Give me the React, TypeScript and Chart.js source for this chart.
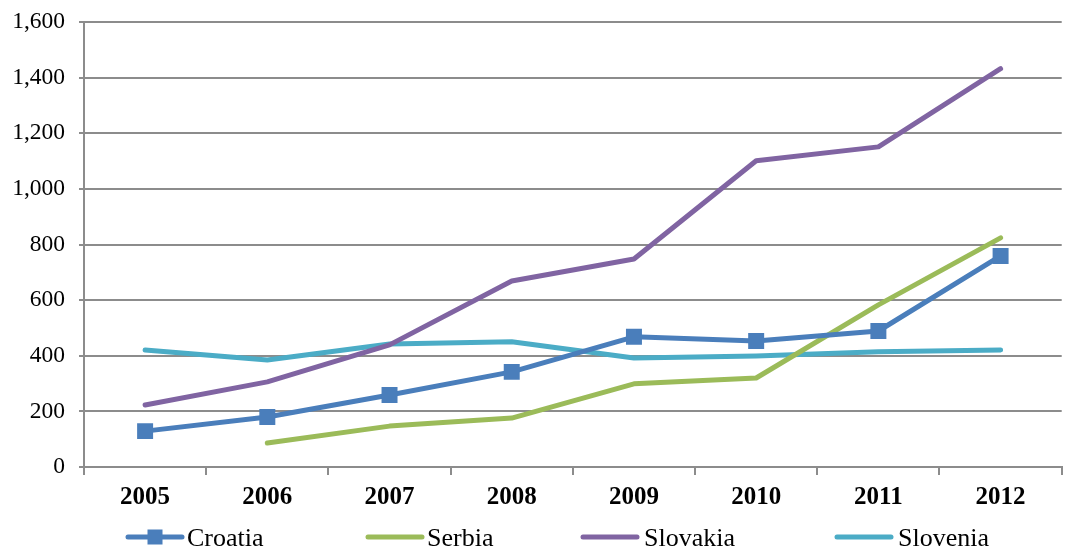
import React, { useEffect, useRef } from "react";
import { Chart, registerables } from "chart.js";

Chart.register(...registerables);

const years = ["2005", "2006", "2007", "2008", "2009", "2010", "2011", "2012"];
const croatia = [129, 180, 259, 342, 468, 453, 489, 759];
const serbia = [null, 86, 147, 176, 299, 320, 583, 824];
const slovakia = [223, 306, 439, 669, 748, 1101, 1151, 1432];
const slovenia = [421, 385, 442, 450, 392, 399, 414, 421];

const seriesNames = ["Croatia", "Serbia", "Slovakia", "Slovenia"];
const seriesColors = ["#4A7EBB", "#9BBB59", "#8064A2", "#4BACC6"];

const FONT = "'Liberation Serif', 'Times New Roman', serif";

const legendPlugin = {
  id: "customLegend",
  afterDraw(chart: any) {
    const ctx = chart.ctx;
    const items = [
      { line: [128, 182], text: 187 },
      { line: [368, 422], text: 427 },
      { line: [583, 637], text: 644 },
      { line: [837, 891], text: 898 },
    ];
    const y = 537;
    ctx.save();
    items.forEach((it, i) => {
      ctx.strokeStyle = seriesColors[i];
      ctx.lineWidth = 5;
      ctx.lineCap = "round";
      ctx.beginPath();
      ctx.moveTo(it.line[0], y);
      ctx.lineTo(it.line[1], y);
      ctx.stroke();
      if (i === 0) {
        ctx.fillStyle = seriesColors[i];
        const c = (it.line[0] + it.line[1]) / 2;
        ctx.fillRect(c - 7.5, y - 7.5, 15, 15);
      }
      ctx.fillStyle = "#000";
      ctx.font = `26px ${FONT}`;
      ctx.textBaseline = "middle";
      ctx.textAlign = "left";
      ctx.fillText(seriesNames[i], it.text, y + 2);
    });
    ctx.restore();
  },
};

export default function App() {
  const ref = useRef<HTMLCanvasElement>(null);
  useEffect(() => {
    if (!ref.current) return;
    const data = [croatia, serbia, slovakia, slovenia];
    const chart = new Chart(ref.current, {
      type: "line",
      data: {
        labels: years,
        datasets: seriesNames.map((name, i) => ({
          label: name,
          data: data[i] as any,
          borderColor: seriesColors[i],
          backgroundColor: seriesColors[i],
          borderWidth: 5,
          pointRadius: i === 0 ? 11.3 : 0,
          pointStyle: "rect",
          pointBorderWidth: 0,
          pointHoverRadius: i === 0 ? 11.3 : 0,
          tension: 0,
          spanGaps: false,
          borderJoinStyle: "round" as const,
          borderCapStyle: "round" as const,
        })),
      },
      plugins: [legendPlugin],
      options: {
        responsive: false,
        animation: false,
        events: [],
        layout: { padding: { top: 22, right: 10, left: 0, bottom: 0 } },
        plugins: { legend: { display: false }, tooltip: { enabled: false } },
        scales: {
          x: {
            offset: true,
            grid: {
              offset: true,
              drawOnChartArea: false,
              drawTicks: true,
              tickLength: 8,
              color: "#8c8c8c",
              lineWidth: 2,
            },
            border: { display: true, color: "#8c8c8c", width: 2 },
            ticks: {
              color: "#000",
              font: { family: FONT, size: 25, weight: "bold" },
              padding: 8,
              maxRotation: 0,
            },
            afterFit(scale: any) {
              scale.height = 83;
              scale.paddingLeft = 0;
              scale.paddingRight = 0;
            },
          },
          y: {
            min: 0,
            max: 1600,
            ticks: {
              stepSize: 200,
              color: "#000",
              font: { family: FONT, size: 23.5 },
              padding: 14,
              callback: (v: any) => Number(v).toLocaleString("en-US"),
            },
            grid: {
              color: "#8c8c8c",
              lineWidth: 2,
              drawTicks: true,
              tickLength: 5,
            },
            border: { display: true, color: "#8c8c8c", width: 2 },
            afterFit(scale: any) {
              scale.width = 84;
              scale.paddingTop = 0;
              scale.paddingBottom = 0;
            },
          },
        },
      },
    });
    return () => chart.destroy();
  }, []);
  return (
    <div style={{ position: "fixed", left: 0, top: 0, width: 1073, height: 550, background: "#fff" }}>
      <canvas ref={ref} width={1073} height={550} style={{ display: "block" }} />
    </div>
  );
}
